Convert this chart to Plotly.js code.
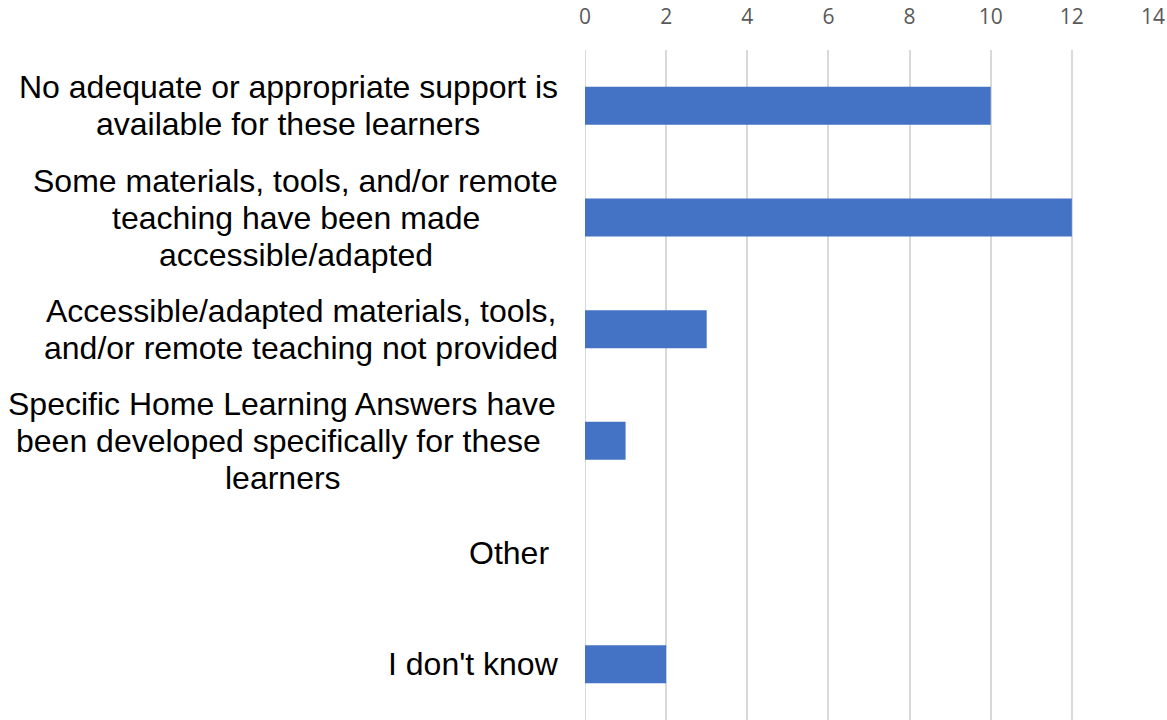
<!DOCTYPE html>
<html>
<head>
<meta charset="utf-8">
<script src="https://cdn.plot.ly/plotly-3.0.1.min.js"></script>
<style>html,body{margin:0;padding:0;background:#fff;}#chart{width:1167px;height:720px;}</style>
</head>
<body>
<div id="chart"></div>
<script>
var categories = [
  "No adequate or appropriate support is available for these learners",
  "Some materials, tools, and/or remote teaching have been made accessible/adapted",
  "Accessible/adapted materials, tools, and/or remote teaching not provided",
  "Specific Home Learning Answers have been developed specifically for these learners",
  "Other",
  "I don't know"
];
var labelLines = [
  ["No adequate or appropriate support is", "available for these learners"],
  ["Some materials, tools, and/or remote", "teaching have been made", "accessible/adapted"],
  ["Accessible/adapted materials, tools,", "and/or remote teaching not provided"],
  ["Specific Home Learning Answers have", "been developed specifically for these ", "learners"],
  ["Other "],
  ["I don't know"]
];
var values = [10, 12, 3, 1, 0, 2];
var tickVals = [0, 2, 4, 6, 8, 10, 12, 14];

var LABEL_FONT = 'Liberation Sans';
var LABEL_SIZE = 32;
var LINE_H = 37;
var GAP = 27;

var canvas = document.createElement('canvas');
var ctx = canvas.getContext('2d');
ctx.font = LABEL_SIZE + 'px "' + LABEL_FONT + '"';
function w(s){ return ctx.measureText(s).width; }

var trace = {
  type: 'bar',
  orientation: 'h',
  y: categories,
  x: values,
  marker: {color: '#4472c4'},
  hoverinfo: 'x+y'
};

var annotations = [];
categories.forEach(function(c, i){
  var lines = labelLines[i];
  var blockW = Math.max.apply(null, lines.map(w));
  var n = lines.length;
  lines.forEach(function(line, j){
    var lw = w(line);
    var leftOffset = GAP + blockW - (blockW - lw) / 2;
    annotations.push({
      xref: 'paper', yref: 'y', x: 0, y: c,
      xanchor: 'left', yanchor: 'middle',
      xshift: -leftOffset - 1,
      yshift: -((j - (n - 1) / 2) * LINE_H),
      text: line.replace(/\s+$/, ''), showarrow: false, align: 'left',
      borderpad: 0,
      font: {family: LABEL_FONT + ', Arial, sans-serif', size: LABEL_SIZE, color: '#000000'}
    });
  });
});

var layout = {
  width: 1167, height: 720,
  margin: {l: 585, r: 14, t: 50, b: 0, pad: 0},
  paper_bgcolor: '#ffffff', plot_bgcolor: '#ffffff',
  bargap: 0.66,
  showlegend: false,
  xaxis: {
    side: 'top', range: [0, 14], tickvals: tickVals,
    showgrid: true, gridcolor: '#d9d9d9', gridwidth: 2,
    zeroline: false, showline: false, ticks: '',
    ticklabelstandoff: 21,
    tickfont: {family: 'Open Sans, sans-serif', size: 21, color: '#595959'}
  },
  yaxis: {
    type: 'category', autorange: 'reversed',
    showticklabels: false, showgrid: false, zeroline: false, showline: false, ticks: ''
  },
  shapes: [{
    type: 'line', xref: 'x', yref: 'paper', x0: 0, x1: 0, y0: 0, y1: 1,
    line: {color: '#d9d9d9', width: 2}, layer: 'below'
  }],
  annotations: annotations
};

Plotly.newPlot('chart', [trace], layout, {displayModeBar: false, staticPlot: true});
</script>
</body>
</html>
